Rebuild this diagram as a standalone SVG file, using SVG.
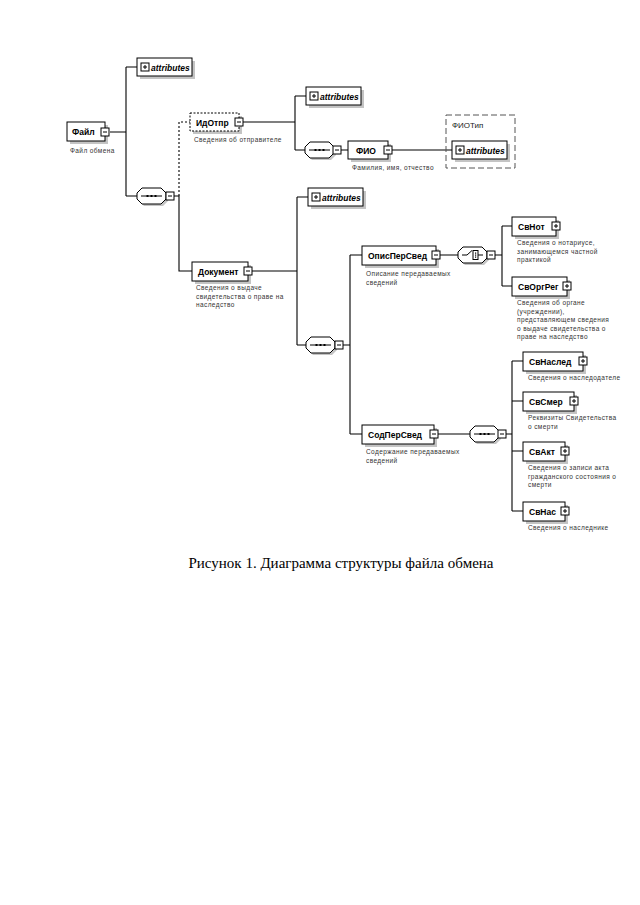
<svg xmlns="http://www.w3.org/2000/svg" width="640" height="905" viewBox="0 0 640 905">
<style>
.bg{fill:#fff}
.box{fill:#fff;stroke:#000;stroke-width:1}
.opt{stroke-dasharray:2 1.5}
.sh{fill:#c4c4c4}
.name{font-family:"Liberation Sans",Arial,sans-serif;font-weight:bold;font-size:8.5px;fill:#000}
.attr{font-family:"Liberation Sans",Arial,sans-serif;font-weight:bold;font-style:italic;font-size:8.5px;fill:#000}
.desc{font-family:"Liberation Sans",Arial,sans-serif;font-size:6.5px;letter-spacing:0.4px;fill:#333}
.type{font-family:"Liberation Sans",Arial,sans-serif;font-size:8px;fill:#222}
.cap{font-family:"Liberation Serif","Times New Roman",serif;font-size:15px;fill:#000}
.ln{fill:none;stroke:#000;stroke-width:1.1}
.dl{fill:none;stroke:#000;stroke-width:1.1;stroke-dasharray:2 2}
</style>
<defs>
<g id="minus"><rect x="0" y="0" width="8" height="8" fill="#fff" stroke="#000"/><path d="M2,4H6" stroke="#000"/></g>
<g id="plus"><rect x="0" y="0" width="8" height="8" fill="#fff" stroke="#000"/><path d="M2,4H6M4,2V6" stroke="#000"/></g>
<path id="comp" d="M5,0 H24 L29,5 V11 L24,16 H5 L0,11 V5 Z"/>
<g id="seq"><use href="#comp" transform="translate(2,2)" class="sh"/><use href="#comp" fill="#fff" stroke="#000" stroke-linejoin="round"/><path d="M4,8H25" stroke="#000"/><rect x="9.5" y="7" width="2" height="2"/><rect x="13.5" y="7" width="2" height="2"/><rect x="17.5" y="7" width="2" height="2"/></g>
<g id="cho"><use href="#comp" transform="translate(2,2)" class="sh"/><use href="#comp" fill="#fff" stroke="#000" stroke-linejoin="round"/><path d="M4,8H9L14,3.5" stroke="#000" fill="none"/><rect x="15" y="3.5" width="5" height="9" fill="#fff" stroke="#000"/><rect x="17" y="5.5" width="1.2" height="1.2"/><rect x="17" y="7.5" width="1.2" height="1.2"/><rect x="17" y="9.5" width="1.2" height="1.2"/><path d="M20,8H25" stroke="#000"/></g>
<g id="attrbox"><rect x="3" y="3" width="55" height="18" class="sh"/><rect x="0" y="0" width="55" height="18" class="box"/><use href="#plus" x="4" y="5"/><text x="14" y="12.5" class="attr">attributes</text></g>
</defs>
<rect width="640" height="905" class="bg"/>

<g id="connectors">
<path class="ln" d="M110,132H126M126,67V196M126,67H137M126,196H137"/>
<path class="ln" d="M174,196H179V271H192"/>
<path class="dl" d="M179,196V122H190"/>
<path class="ln" d="M243,122H295M295,96V150M295,96H306M295,150H305"/>
<path class="ln" d="M341,150H348M392,150H452"/>
<path class="ln" d="M252,271H297M297,197V345M297,197H308M297,345H306"/>
<path class="ln" d="M343,345H350M350,255V434M350,255H362M350,434H362"/>
<path class="ln" d="M440,255H458M495,255H502M502,226V286M502,226H512M502,286H512"/>
<path class="ln" d="M438,434H470M506,434H512M512,361V511M512,361H523M512,401H523M512,451H523M512,511H523"/>
</g>

<g id="n-file">
<rect x="70" y="125" width="38" height="19" class="sh"/>
<rect x="67" y="122" width="38" height="19" class="box"/>
<text x="72" y="135" class="name">Файл</text>
<use href="#minus" x="101" y="128"/>
<text x="70" y="153" class="desc">Файл обмена</text>
</g>

<g id="n-attr1"><use href="#attrbox" x="137" y="58"/></g>

<g id="n-seq1"><use href="#seq" x="137" y="188"/><use href="#minus" x="166" y="192"/></g>

<g id="n-idotpr">
<rect x="193" y="116" width="49" height="18" class="sh"/>
<rect x="190" y="113" width="49" height="18" class="box opt"/>
<text x="196" y="125.5" class="name">ИдОтпр</text>
<use href="#minus" x="235" y="118"/>
<text x="194" y="142" class="desc">Сведения об отправителе</text>
</g>

<g id="n-attr2"><use href="#attrbox" x="306" y="87"/></g>

<g id="n-seq2"><use href="#seq" x="305" y="142"/><use href="#minus" x="333" y="146"/></g>

<g id="n-fio">
<rect x="351" y="144" width="40" height="18" class="sh"/>
<rect x="348" y="141" width="40" height="18" class="box"/>
<text x="356" y="153.5" class="name">ФИО</text>
<use href="#minus" x="384" y="146"/>
<text x="352" y="170" class="desc">Фамилия, имя, отчество</text>
</g>

<g id="n-fiotype">
<rect x="446" y="115" width="69" height="53" fill="none" stroke="#555" stroke-width="1" stroke-dasharray="6 3"/>
<text x="452" y="128" class="type">ФИОТип</text>
<use href="#attrbox" x="452" y="141"/>
</g>

<g id="n-doc">
<rect x="195" y="265" width="56" height="19" class="sh"/>
<rect x="192" y="262" width="56" height="19" class="box"/>
<text x="198" y="275" class="name">Документ</text>
<use href="#minus" x="244" y="267"/>
<text x="196" y="290" class="desc">Сведения о выдаче</text>
<text x="196" y="298.5" class="desc">свидетельства о праве на</text>
<text x="196" y="307" class="desc">наследство</text>
</g>

<g id="n-attr3"><use href="#attrbox" x="308" y="188"/></g>

<g id="n-seq3"><use href="#seq" x="306" y="337"/><use href="#minus" x="335" y="341"/></g>

<g id="n-opis">
<rect x="365" y="249" width="74" height="19" class="sh"/>
<rect x="362" y="246" width="74" height="19" class="box"/>
<text x="368" y="259" class="name">ОписПерСвед</text>
<use href="#minus" x="432" y="251"/>
<text x="366" y="276" class="desc">Описание передаваемых</text>
<text x="366" y="284.5" class="desc">сведений</text>
</g>

<g id="n-cho"><use href="#cho" x="458" y="247"/><use href="#minus" x="487" y="251"/></g>

<g id="n-svnot">
<rect x="515" y="220" width="44" height="19" class="sh"/>
<rect x="512" y="217" width="44" height="19" class="box"/>
<text x="518" y="230" class="name">СвНот</text>
<use href="#plus" x="552" y="222"/>
<text x="517" y="245" class="desc">Сведения о нотариусе,</text>
<text x="517" y="253.5" class="desc">занимающемся частной</text>
<text x="517" y="262" class="desc">практикой</text>
</g>

<g id="n-svorgreg">
<rect x="515" y="280" width="55" height="19" class="sh"/>
<rect x="512" y="277" width="55" height="19" class="box"/>
<text x="518" y="290" class="name">СвОргРег</text>
<use href="#plus" x="563" y="282"/>
<text x="517" y="305" class="desc">Сведения об органе</text>
<text x="517" y="313.5" class="desc">(учреждении),</text>
<text x="517" y="322" class="desc">представляющем сведения</text>
<text x="517" y="330.5" class="desc">о выдаче свидетельства о</text>
<text x="517" y="339" class="desc">праве на наследство</text>
</g>

<g id="n-sod">
<rect x="365" y="428" width="72" height="19" class="sh"/>
<rect x="362" y="425" width="72" height="19" class="box"/>
<text x="368" y="438" class="name">СодПерСвед</text>
<use href="#minus" x="430" y="430"/>
<text x="366" y="454" class="desc">Содержание передаваемых</text>
<text x="366" y="462.5" class="desc">сведений</text>
</g>

<g id="n-seq5"><use href="#seq" x="470" y="426"/><use href="#minus" x="498" y="430"/></g>

<g id="n-svnasled">
<rect x="526" y="355" width="60" height="19" class="sh"/>
<rect x="523" y="352" width="60" height="19" class="box"/>
<text x="529" y="365" class="name">СвНаслед</text>
<use href="#plus" x="579" y="357"/>
<text x="528" y="380" class="desc">Сведения о наследодателе</text>
</g>

<g id="n-svsmer">
<rect x="526" y="395" width="51" height="19" class="sh"/>
<rect x="523" y="392" width="51" height="19" class="box"/>
<text x="529" y="405" class="name">СвСмер</text>
<use href="#plus" x="570" y="397"/>
<text x="528" y="420" class="desc">Реквизиты Свидетельства</text>
<text x="528" y="428.5" class="desc">о смерти</text>
</g>

<g id="n-svakt">
<rect x="526" y="445" width="42" height="19" class="sh"/>
<rect x="523" y="442" width="42" height="19" class="box"/>
<text x="529" y="455" class="name">СвАкт</text>
<use href="#plus" x="561" y="447"/>
<text x="528" y="470" class="desc">Сведения о записи акта</text>
<text x="528" y="478.5" class="desc">гражданского состояния о</text>
<text x="528" y="487" class="desc">смерти</text>
</g>

<g id="n-svnas">
<rect x="526" y="505" width="42" height="19" class="sh"/>
<rect x="523" y="502" width="42" height="19" class="box"/>
<text x="529" y="515" class="name">СвНас</text>
<use href="#plus" x="561" y="507"/>
<text x="528" y="530" class="desc">Сведения о наследнике</text>
</g>

<text x="341" y="568" text-anchor="middle" class="cap">Рисунок 1. Диаграмма структуры файла обмена</text>
</svg>
